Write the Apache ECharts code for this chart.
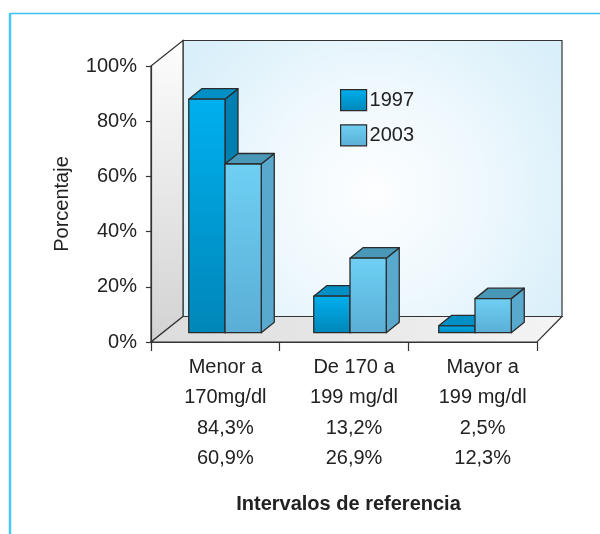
<!DOCTYPE html>
<html>
<head>
<meta charset="utf-8">
<script src="https://cdn.jsdelivr.net/npm/echarts@6/dist/echarts.min.js"></script>
<style>
  html, body { margin: 0; padding: 0; background: #fff; }
  #main { width: 600px; height: 534px; }
</style>
</head>
<body>
<div id="main"></div>
<script>
// data
var categories = ['Menor a\n170mg/dl', 'De 170 a\n199 mg/dl', 'Mayor a\n199 mg/dl'];
var years = ['1997', '2003'];
var values1997 = [84.3, 13.2, 2.5];
var values2003 = [60.9, 26.9, 12.3];
var yTicks = [0, 20, 40, 60, 80, 100];

var FONT = "'Liberation Sans', Arial, sans-serif";

function pct(v) {
  return v.toFixed(1).replace('.', ',') + '%';
}

// front face / side / top colours for each year
var barColors = [
  { front: ['#00b0ef', '#0086b8'], side: '#007fb0', top: '#0090c6' },
  { front: ['#6fd0f4', '#5aaed6'], side: '#58a9cd', top: '#4a98b8' }
];

function grad(c) {
  return new echarts.graphic.LinearGradient(0, 0, 0, 1, [
    { offset: 0, color: c[0] }, { offset: 1, color: c[1] }
  ]);
}

// 3d box walls drawn behind the bars
function renderWalls(params, api) {
  var cs = params.coordSys;
  var x = cs.x, y = cs.y, w = cs.width, h = cs.height;
  var dl = 32, dr = 25, dy = -25.5;
  var stroke = { stroke: '#333', lineWidth: 1.2 };
  return {
    type: 'group',
    children: [
      {
        type: 'polygon',
        shape: { points: [[x + dl, y + dy], [x + w + dr, y + dy], [x + w + dr, y + h + dy], [x + dl, y + h + dy]] },
        style: Object.assign({
          fill: new echarts.graphic.RadialGradient(0.5, 0.55, 0.8, [
            { offset: 0, color: '#fdfeff' }, { offset: 0.5, color: '#eef8fd' }, { offset: 1, color: '#d9eff9' }
          ])
        }, stroke)
      },
      {
        type: 'polygon',
        shape: { points: [[x, y], [x + dl, y + dy], [x + dl, y + h + dy], [x, y + h]] },
        style: Object.assign({
          fill: new echarts.graphic.LinearGradient(0, 0, 0, 1, [
            { offset: 0, color: '#fdfdfd' }, { offset: 1, color: '#d2d2d2' }
          ])
        }, stroke)
      },
      {
        type: 'polygon',
        shape: { points: [[x, y + h], [x + dl, y + h + dy], [x + w + dr, y + h + dy], [x + w, y + h]] },
        style: Object.assign({
          fill: new echarts.graphic.LinearGradient(0, 0, 1, 0, [
            { offset: 0, color: '#dcdcdc' }, { offset: 1, color: '#f4f4f4' }
          ])
        }, stroke)
      }
    ]
  };
}

function makeBarRender(i) {
  var c = barColors[i];
  return function (params, api) {
    var base = api.coord([api.value(0), 0]);
    var top = api.coord([api.value(0), api.value(1)]);
    var bw = api.size([1, 0])[0] * 0.29;
    var dx = 13, dy = -10.5;
    var x0 = base[0] - bw + i * bw, x1 = x0 + bw;
    var yb = base[1], yt = top[1];
    var st = { stroke: '#2b2b2b', lineWidth: 1.3, lineJoin: 'round' };
    return {
      type: 'group',
      children: [
        { type: 'polygon', shape: { points: [[x1, yt], [x1 + dx, yt + dy], [x1 + dx, yb + dy], [x1, yb]] },
          style: Object.assign({ fill: c.side }, st) },
        { type: 'polygon', shape: { points: [[x0, yt], [x0 + dx, yt + dy], [x1 + dx, yt + dy], [x1, yt]] },
          style: Object.assign({ fill: c.top }, st) },
        { type: 'rect', shape: { x: x0, y: yt, width: bw, height: yb - yt },
          style: Object.assign({ fill: grad(c.front) }, st) }
      ]
    };
  };
}

var chart = echarts.init(document.getElementById('main'));

chart.setOption({
  animation: false,
  backgroundColor: '#fff',
  textStyle: { fontFamily: FONT },
  graphic: [
    { type: 'line', shape: { x1: 10, y1: 13.5, x2: 600, y2: 13.5 }, style: { stroke: '#38c2f2', lineWidth: 1.5 } },
    { type: 'line', shape: { x1: 10, y1: 13, x2: 10, y2: 534 }, style: { stroke: '#45c8f5', lineWidth: 2.5 } }
  ],
  legend: {
    data: years,
    orient: 'vertical',
    icon: 'rect',
    left: 340,
    top: 89,
    padding: 0,
    itemWidth: 26,
    itemHeight: 21,
    itemGap: 13,
    itemStyle: { borderColor: '#2b2b2b', borderWidth: 1.2 },
    textStyle: { fontSize: 20, color: '#222', fontFamily: FONT, padding: [0, 0, 0, -2] }
  },
  grid: [
    { left: 151, top: 66, width: 386, height: 276 },
    { left: 162.5, top: 55.7, width: 375, height: 277 }
  ],
  xAxis: [
    {
      gridIndex: 0,
      type: 'category',
      data: categories,
      z: 5,
      axisLine: { show: true, lineStyle: { color: '#333', width: 1.2 } },
      axisTick: { show: true, length: 9, lineStyle: { color: '#333', width: 1.2 } },
      axisLabel: {
        margin: 10,
        fontSize: 20,
        lineHeight: 30.5,
        color: '#222',
        fontFamily: FONT,
        padding: [0, 0, 0, 20],
        formatter: function (v, idx) {
          return v + '\n' + pct(values1997[idx]) + '\n' + pct(values2003[idx]);
        }
      },
      name: 'Intervalos de referencia',
      nameLocation: 'middle',
      nameGap: 152,
      nameTextStyle: { fontSize: 20, fontWeight: 'bold', color: '#222', fontFamily: FONT, padding: [0, 0, 0, 9] }
    },
    {
      gridIndex: 1,
      type: 'category',
      data: categories,
      show: false
    }
  ],
  yAxis: [
    {
      gridIndex: 0,
      type: 'value',
      min: 0,
      max: 100,
      interval: 20,
      z: 5,
      axisLine: { show: true, lineStyle: { color: '#333', width: 1.2 } },
      axisTick: { show: true, length: 5, lineStyle: { color: '#333', width: 1.2 } },
      splitLine: { show: false },
      axisLabel: {
        margin: 14,
        fontSize: 20,
        color: '#222',
        fontFamily: FONT,
        formatter: function (v) { return yTicks.indexOf(v) >= 0 ? v + '%' : ''; }
      },
      name: 'Porcentaje',
      nameLocation: 'middle',
      nameRotate: 90,
      nameGap: 79,
      nameTextStyle: { fontSize: 20, color: '#222', fontFamily: FONT }
    },
    {
      gridIndex: 1,
      type: 'value',
      min: 0,
      max: 100,
      show: false
    }
  ],
  series: [
    {
      type: 'custom',
      name: 'walls',
      xAxisIndex: 0,
      yAxisIndex: 0,
      z: 1,
      silent: true,
      renderItem: renderWalls,
      data: [[0, 0]]
    },
    {
      type: 'custom',
      name: years[0],
      xAxisIndex: 1,
      yAxisIndex: 1,
      z: 2,
      itemStyle: { color: grad(barColors[0].front) },
      renderItem: makeBarRender(0),
      data: values1997.map(function (v, i) { return [i, v]; })
    },
    {
      type: 'custom',
      name: years[1],
      xAxisIndex: 1,
      yAxisIndex: 1,
      z: 3,
      itemStyle: { color: grad(barColors[1].front) },
      renderItem: makeBarRender(1),
      data: values2003.map(function (v, i) { return [i, v]; })
    }
  ]
});
</script>
</body>
</html>
